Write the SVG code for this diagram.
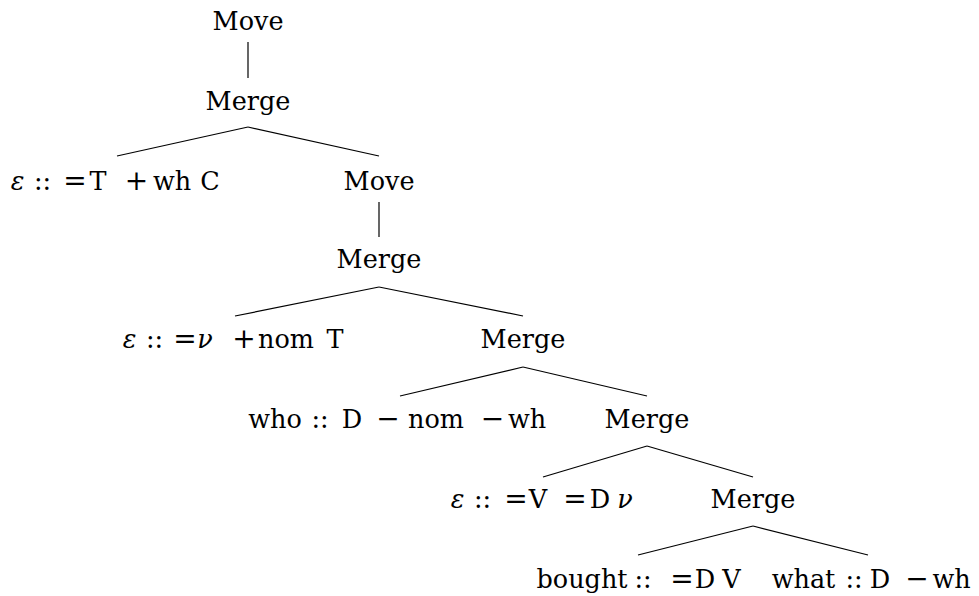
<svg xmlns="http://www.w3.org/2000/svg" width="979" height="596" viewBox="0 0 979 596">
<style>
text{font-family:"DejaVu Serif","Liberation Serif",serif;font-size:25.5px;fill:#000;text-anchor:middle}
.i{font-style:italic}
.s{font-size:28px}
.e{stroke:#000;stroke-width:1.2;fill:none}
</style>
<rect width="979" height="596" fill="#fff"/>
<g id="connectors">
<line class="e" x1="248" y1="42" x2="248" y2="78"/>
<line class="e" x1="248" y1="127" x2="117" y2="156"/>
<line class="e" x1="248" y1="127" x2="379" y2="156"/>
<line class="e" x1="379" y1="202" x2="379" y2="237"/>
<line class="e" x1="379" y1="287" x2="235" y2="316"/>
<line class="e" x1="379" y1="287" x2="523" y2="316"/>
<line class="e" x1="523" y1="367" x2="400" y2="396"/>
<line class="e" x1="523" y1="367" x2="647" y2="396"/>
<line class="e" x1="647" y1="446" x2="543" y2="477"/>
<line class="e" x1="647" y1="446" x2="753" y2="477"/>
<line class="e" x1="753" y1="526" x2="638" y2="555"/>
<line class="e" x1="753" y1="526" x2="868" y2="555"/>
</g>
<g id="move1"><text x="248" y="30">Move</text></g>
<g id="merge1"><text x="248" y="110">Merge</text></g>
<g id="leafC"><text y="190"><tspan x="17.5" class="i">ε</tspan><tspan x="42.5">::</tspan><tspan x="75" class="s">=</tspan><tspan x="98">T</tspan><tspan x="136.5" class="s">+</tspan><tspan x="172">wh</tspan><tspan x="210">C</tspan></text></g>
<g id="move2"><text x="379" y="190">Move</text></g>
<g id="merge2"><text x="379" y="268">Merge</text></g>
<g id="leafT"><text y="348"><tspan x="129.5" class="i">ε</tspan><tspan x="154.5">::</tspan><tspan x="185" class="s">=</tspan><tspan x="205" class="i">ν</tspan><tspan x="244" class="s">+</tspan><tspan x="286">nom</tspan><tspan x="335">T</tspan></text></g>
<g id="merge3"><text x="523" y="348">Merge</text></g>
<g id="leafWho"><text y="428"><tspan x="275">who</tspan><tspan x="320">::</tspan><tspan x="352">D</tspan><tspan x="388" class="s">−</tspan><tspan x="436">nom</tspan><tspan x="492.5" class="s">−</tspan><tspan x="527">wh</tspan></text></g>
<g id="merge4"><text x="647" y="428">Merge</text></g>
<g id="leafV"><text y="508"><tspan x="457.5" class="i">ε</tspan><tspan x="482.5">::</tspan><tspan x="516" class="s">=</tspan><tspan x="538">V</tspan><tspan x="575" class="s">=</tspan><tspan x="600">D</tspan><tspan x="625" class="i">ν</tspan></text></g>
<g id="merge5"><text x="753" y="508">Merge</text></g>
<g id="leafBought"><text y="588"><tspan x="582">bought</tspan><tspan x="643">::</tspan><tspan x="682" class="s">=</tspan><tspan x="705">D</tspan><tspan x="731.5">V</tspan></text></g>
<g id="leafWhat"><text y="588"><tspan x="803.5">what</tspan><tspan x="854">::</tspan><tspan x="880">D</tspan><tspan x="917" class="s">−</tspan><tspan x="951.5">wh</tspan></text></g>
</svg>
